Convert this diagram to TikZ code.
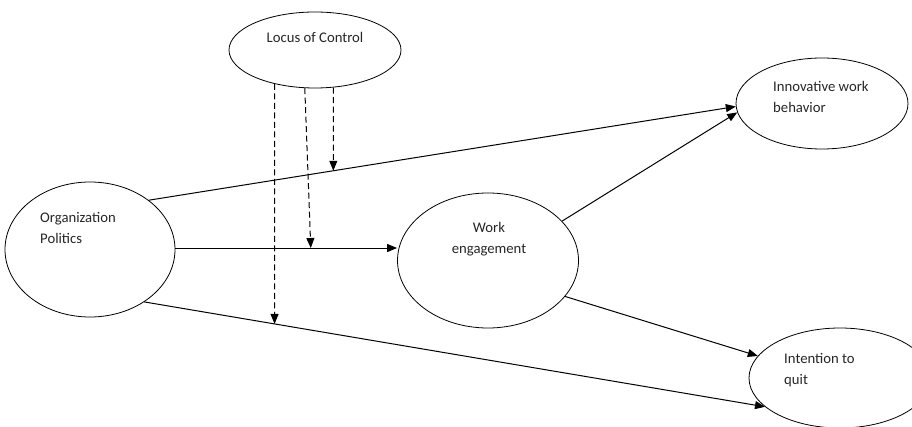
\documentclass[tikz,border=0pt]{standalone}
\usepackage{fontspec}
\setmainfont{Carlito}
\usetikzlibrary{shapes.geometric,arrows.meta,intersections,calc}
\begin{document}
\begin{tikzpicture}[x=1pt,y=-1pt,
  latent/.style={draw, ellipse, inner sep=0pt, line width=0.8pt},
  lbl/.style={inner sep=0pt, font=\fontsize{14.7}{21}\selectfont, text=black!85},
  effect/.style={line width=1pt, -{Triangle[length=10pt,width=8pt]}},
  moder/.style={line width=1pt, dash pattern=on 6pt off 3.5pt, -{Triangle[length=10pt,width=8pt]}}]
\clip (0,0) rectangle (912,427);
\node[latent, minimum width=172pt, minimum height=76pt] (locus) at (315,50) {};
\node[latent, minimum width=170pt, minimum height=135pt] (org) at (90,249.5) {};
\node[latent, minimum width=181pt, minimum height=135pt] (work) at (488,260.5) {};
\node[latent, minimum width=172pt, minimum height=91pt] (innov) at (822,103.5) {};
\node[latent, minimum width=182pt, minimum height=100pt] (intent) at (840,378) {};

\node[lbl, anchor=base] (locusT) at (315,43) {Locus of Control};
\node[lbl, anchor=base west, align=left] (orgT) at (40,243.7) {Organization\\Politics};
\node[lbl, anchor=base, align=center] (workT) at (489,254) {Work\\engagement};
\node[lbl, anchor=base west, align=left] (innovT) at (773,112.5) {Innovative work\\behavior};
\node[lbl, anchor=base west, align=left] (intentT) at (784,384.5) {Intention to\\quit};

\draw[effect, name path=l1] (org.40) -- (innov.182);
\draw[effect] (work.28) -- (innov.186);
\draw[effect, name path=l2] (org.1) -- (org.1 -| work.west);
\draw[effect, name path=l3] (org.-44) -- (intent.201);
\draw[effect] (work.-25) -- (intent.165);

\path[name path=v1] (locus.296) -- ++(0,300);
\path[name path=v2] (locus.255) -- ++(12,320);
\path[name path=v3] (locus.220) -- ++(0,300);
\path[name intersections={of=l1 and v1, by=t1}];
\path[name intersections={of=l2 and v2, by=t2}];
\path[name intersections={of=l3 and v3, by=t3}];
\draw[moder] (locus.296) -- (t1);
\draw[moder] (locus.255) -- (t2);
\draw[moder] (locus.220) -- (t3);
\end{tikzpicture}
\end{document}
